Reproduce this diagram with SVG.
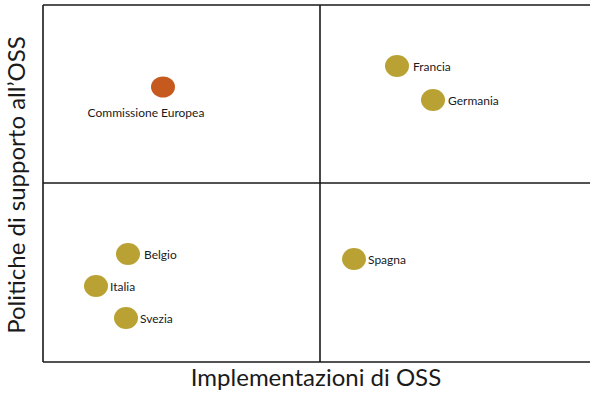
<svg xmlns="http://www.w3.org/2000/svg" width="590" height="401" viewBox="0 0 590 401">
<style>
.ax{stroke:#1a1a1a;stroke-width:1.6;fill:none}
.pt{fill:#b9a233}
.eu{fill:#c65a1e}
.lb{font-family:Lato,"Open Sans",sans-serif;font-size:12px;fill:#1a1a1a}
.tt{font-family:Lato,"Open Sans",sans-serif;font-size:24px;fill:#1a1a1a}
</style>
<rect width="590" height="401" fill="#ffffff"/>
<g id="connectors">
<path class="ax" d="M43,5 H591 M43,5 V362 M43,362 H591 M320,5 V362 M43,183 H591"/>
</g>
<g id="commissione"><ellipse class="eu" cx="163" cy="87" rx="12" ry="10.5"/><text class="lb" x="146" y="117" text-anchor="middle">Commissione Europea</text></g>
<g id="francia"><ellipse class="pt" cx="397" cy="66" rx="12" ry="11"/><text class="lb" x="413" y="71">Francia</text></g>
<g id="germania"><ellipse class="pt" cx="433" cy="100" rx="12" ry="11"/><text class="lb" x="448" y="105">Germania</text></g>
<g id="belgio"><ellipse class="pt" cx="128" cy="254" rx="12" ry="11"/><text class="lb" x="144" y="259">Belgio</text></g>
<g id="italia"><ellipse class="pt" cx="96" cy="286" rx="12" ry="11"/><text class="lb" x="110" y="291">Italia</text></g>
<g id="svezia"><ellipse class="pt" cx="126" cy="318" rx="12" ry="11"/><text class="lb" x="140" y="323">Svezia</text></g>
<g id="spagna"><ellipse class="pt" cx="354" cy="259" rx="12" ry="11"/><text class="lb" x="368" y="264">Spagna</text></g>
<text class="tt" x="316" y="386" text-anchor="middle" font-size="24.5">Implementazioni di OSS</text>
<text class="tt" transform="translate(25,185) rotate(-90)" text-anchor="middle">Politiche di supporto all’OSS</text>
</svg>
